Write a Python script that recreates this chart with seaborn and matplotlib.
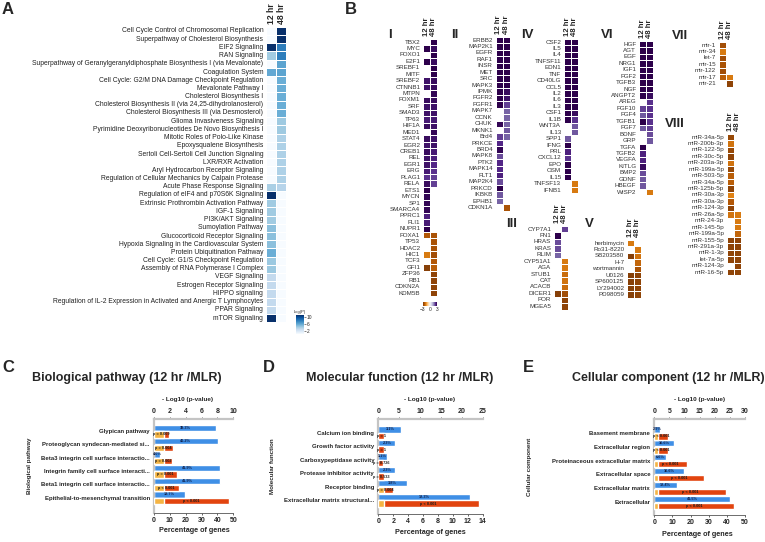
import numpy as np
import matplotlib
matplotlib.use("Agg")
import matplotlib.pyplot as plt
import matplotlib.colors as mcolors
import matplotlib.cm as cm
import seaborn as sns

nan = np.nan

# ---------------- Panel A data ----------------
a_pathways = [
    "Cell Cycle Control of Chromosomal Replication",
    "Superpathway of Cholesterol Biosynthesis",
    "EIF2 Signaling",
    "RAN Signaling",
    "Superpathway of Geranylgeranyldiphosphate Biosynthesis I (via Mevalonate)",
    "Coagulation System",
    "Cell Cycle: G2/M DNA Damage Checkpoint Regulation",
    "Mevalonate Pathway I",
    "Cholesterol Biosynthesis I",
    "Cholesterol Biosynthesis II (via 24,25-dihydrolanosterol)",
    "Cholesterol Biosynthesis III (via Desmosterol)",
    "Glioma Invasiveness Signaling",
    "Pyrimidine Deoxyribonucleotides De Novo Biosynthesis I",
    "Mitotic Roles of Polo-Like Kinase",
    "Epoxysqualene Biosynthesis",
    "Sertoli Cell-Sertoli Cell Junction Signaling",
    "LXR/RXR Activation",
    "Aryl Hydrocarbon Receptor Signaling",
    "Regulation of Cellular Mechanics by Calpain Protease",
    "Acute Phase Response Signaling",
    "Regulation of eIF4 and p70S6K Signaling",
    "Extrinsic Prothrombin Activation Pathway",
    "IGF-1 Signaling",
    "PI3K/AKT Signaling",
    "Sumoylation Pathway",
    "Glucocorticoid Receptor Signaling",
    "Hypoxia Signaling in the Cardiovascular System",
    "Protein Ubiquitination Pathway",
    "Cell Cycle: G1/S Checkpoint Regulation",
    "Assembly of RNA Polymerase I Complex",
    "VEGF Signaling",
    "Estrogen Receptor Signaling",
    "HIPPO signaling",
    "Regulation of IL-2 Expression in Activated and Anergic T Lymphocytes",
    "PPAR Signaling",
    "mTOR Signaling",
]
a_12hr = [0, 0, 11, 4.0, 0, 5.8, 0, 0, 0, 0, 0, 0, 0, 0, 0, 0, 0, 0, 0, 3.7,
          11, 4.0, 4.0, 4.0, 4.6, 4.6, 4.6, 5.5, 4.2, 4.2, 2.8, 2.8, 2.8, 2.8, 2.8, 11]
a_48hr = [11, 11, 7.7, 7.7, 6.0, 6.0, 5.5, 5.5, 5.5, 5.5, 5.5, 4.1, 4.1, 3.6, 3.6, 3.6,
          3.6, 3.6, 3.6, 3.3, 0, 0, 0, 0, 0, 0, 0, 0, 0, 0, 0, 0, 0, 0, 0, 0]
time_columns = ["12 hr", "48 hr"]

# ---------------- Panel B data (z-scores, NaN = not significant) ----------------
genes_I = ["TBX2", "MYC", "FOXO1", "E2F1", "SREBF1", "MITF", "SREBF2", "CTNNB1", "MTPN", "FOXM1",
           "SRF", "SMAD3", "TP63", "HIF1A", "MED1", "STAT4", "EGR2", "CREB1", "REL", "EGR1",
           "ERG", "PLAG1", "RELA", "ETS1", "MYCN", "SP1", "SMARCA4", "PPRC1", "FLI1", "NUPR1",
           "FOXA1", "TP53", "HDAC2", "HIC1", "TCF3", "GFI1", "ZFP36", "RB1", "CDKN2A", "KDM5B"]
I_12hr = [nan, 3, nan, 3, nan, nan, 2.7, 2.7, nan, 2.8, 2.7, 2.7, 2.6, 2.8, nan, 2.8, 2.7, 2.8, 2.7, 2.7,
          2.6, 2.3, 2.8, 3, 2.9, 2.9, 2.9, 2.5, 2.6, 3, -2.4, nan, nan, -1.9, nan, -2.9, nan, nan, nan, nan]
I_48hr = [3, 2.8, 3, 2.8, 3, 3, 2.8, 2.8, 2.9, 2.8, 2.7, 2.7, 2.6, 2.7, 2.9, 2.7, 2.7, 2.6, 2.5, 2.4,
          2.3, 2.2, 2.2, nan, nan, nan, nan, nan, nan, nan, -2.5, -2.5, -2.5, -2.6, -2.4, -2.3, -2.8, -2.8, -2.8, -2.8]

genes_II = ["ERBB2", "MAP2K1", "EGFR", "RAF1", "INSR", "MET", "SRC", "MAPK3", "IPMK", "FGFR2", "FGFR1",
            "MAPK7", "CCNK", "CHUK", "MKNK1", "Brd4", "PRKCE", "BRD4", "MAPK8", "PTK2", "MAPK14", "FLT1",
            "MAP2K4", "PRKCD", "IKBKB", "EPHB1", "CDKN1A"]
II_12hr = [3, 3, 3, 3, 3, 3, 3, 3, 3, 3, 3, nan, nan, 2.9, nan, 2.2, 2.4, 2.9, 2.1, 2.4, 2.4, 2.5,
           2.1, 3, 2.0, 1.9, nan]
II_48hr = [3, 3, 3, 3, 3, 3, 3, 3, 2.8, 2.7, 2.2, 1.9, 1.9, 1.9, 2.0, 1.9, nan, nan, nan, nan, nan, nan,
           nan, nan, nan, nan, -2.5]

genes_III = ["CYP7A1", "FN1", "HRAS", "KRAS", "RLIM", "CYP51A1", "AGA", "STUB1", "CAT", "ACACB",
             "DICER1", "POR", "MGEA5"]
III_12hr = [nan, 3, 2.1, 2.1, 1.9, nan, nan, nan, nan, nan, -2.9, nan, nan]
III_48hr = [2.2, nan, nan, nan, nan, -1.9, -1.9, -2.1, -2.0, -2.1, -2.6, -2.8, -2.8]

genes_IV = ["CSF2", "IL5", "IL4", "TNFSF11", "EDN1", "TNF", "CD40LG", "CCL5", "IL2", "IL6", "IL3", "CSF1",
            "IL1B", "WNT3A", "IL13", "SPP1", "IFNG", "PRL", "CXCL12", "EPO", "OSM", "IL15", "TNFSF13", "IFNB1"]
IV_12hr = [3, 3, 3, 3, 3, 3, 3, 3, 3, 3, 3, 3, 3, nan, nan, 2.0, 3, 2.5, 2.3, 3, 3, 3, nan, nan]
IV_48hr = [3, 3, 3, 3, 3, 3, 3, 3, 3, 3, 3, 2.8, 2.3, 2.0, 2.0, nan, nan, nan, nan, nan, nan, nan, -1.9, -1.9]

genes_V = ["herbimycin", "Ro31-8220", "SB203580", "H-7", "wortmannin", "U0126", "SP600125",
           "LY294002", "PD98059"]
V_12hr = [-1.9, nan, -2.9, nan, nan, -2.9, -2.9, -2.9, -2.9]
V_48hr = [nan, -1.9, -2.0, -2.2, -2.5, -2.8, -2.8, -2.8, -2.8]

genes_VI = ["HGF", "AGT", "EGF", "NRG1", "IGF1", "FGF2", "TGFB3", "NGF", "ANGPT2", "AREG", "FGF10",
            "FGF4", "TGFB1", "FGF7", "BDNF", "GRP", "TGFA", "TGFB2", "VEGFA", "KITLG", "BMP2", "GDNF",
            "HBEGF", "WISP2"]
VI_12hr = [3, 3, 3, 3, 3, 3, 3, 3, 3, nan, 2.2, 2.0, 3, 2.0, nan, nan, 3, 2.5, 2.5, 2.8, 2.1, 2.0, 2.0, nan]
VI_48hr = [3, 3, 3, 3, 3, 3, 3, 3, 2.8, 2.3, 2.3, 2.3, 2.3, 2.2, 2.1, 2.0, nan, nan, nan, nan, nan, nan, nan, -1.9]

genes_VII = ["mir-1", "mir-34", "let-7", "mir-15", "mir-122", "mir-17", "mir-21"]
VII_12hr = [-2.6, -1.9, -2.6, -2.5, -2.6, -2.3, nan]
VII_48hr = [nan, nan, nan, nan, nan, -1.9, -2.8]

genes_VIII = ["miR-34a-5p", "miR-200b-3p", "miR-122-5p", "miR-30c-5p", "miR-203a-3p", "miR-199a-5p",
              "miR-503-5p", "miR-34a-5p", "miR-125b-5p", "miR-30a-3p", "miR-30a-3p", "miR-124-3p",
              "miR-26a-5p", "miR-24-3p", "miR-145-5p", "miR-199a-5p", "miR-155-5p", "miR-291a-3p",
              "miR-1-3p", "let-7a-5p", "miR-124-3p", "miR-16-5p"]
VIII_12hr = [-2.7, -2.0, -2.7, -2.8, -2.0, -2.7, -2.3, -2.3, -2.8, -1.8, -2.4, -2.8, -2.0, nan, nan, nan,
             -2.8, -2.8, -2.8, -2.8, nan, -2.8]
VIII_48hr = [nan, nan, nan, nan, nan, nan, nan, nan, nan, nan, nan, nan, -1.9, -1.9, -1.9, -2.2,
             -2.8, -2.8, -2.8, -2.8, -2.8, -2.8]

# ---------------- Panels C, D, E data ----------------
c_terms = ["Glypican pathway", "Proteoglycan syndecan-mediated si...",
           "Beta3 integrin cell surface interactio...", "Integrin family cell surface interacti...",
           "Beta1 integrin cell surface interactio...", "Epithelial-to-mesenchymal transition"]
c_pct = [39.3, 40.2, 4.0, 41.9, 41.9, 19.7]
c_logp = [1.95, 2.35, 2.3, 2.85, 3.15, 9.4]
c_plabels = ["p = 0.009", "p = 0.004", "p = 0.002", "p = 0.001", "p < 0.001", "p < 0.001"]

d_terms = ["Calcium ion binding", "Growth factor activity", "Carboxypeptidase activity",
           "Protease inhibitor activity", "Receptor binding", "Extracellular matrix structural..."]
d_pct = [3.1, 2.3, 1.1, 2.3, 3.8, 12.3]
d_logp = [1.3, 1.3, 1.2, 1.3, 3.5, 24.0]
d_plabels = ["p = 1", "p = 1", "p = 0.726", "p = 0.533", "p = 0.004", "p < 0.001"]

e_terms = ["Basement membrane", "Extracellular region", "Proteinaceous extracellular matrix",
           "Extracellular space", "Extracellular matrix", "Extracellular"]
e_pct = [2.9, 10.6, 6.6, 16.6, 12.4, 41.5]
e_logp = [4.4, 4.6, 10.7, 16.5, 23.8, 26.4]
e_plabels = ["p < 0.001"] * 6

P_REF = 1.3  # -log10(0.05) reference segment

# ---------------- style ----------------
sns.set_theme(style="white")
plt.rcParams["font.family"] = ["Liberation Sans", "DejaVu Sans"]
plt.rcParams["axes.linewidth"] = 0.6

W, H = 765, 542
fig = plt.figure(figsize=(W / 100, H / 100), dpi=100)


def px_axes(x0, y0, x1, y1):
    return fig.add_axes([x0 / W, 1 - y1 / H, (x1 - x0) / W, (y1 - y0) / H])


def px_text(x, y, s, **kw):
    return fig.text(x / W, 1 - y / H, s, **kw)


# ---------------- Panel A ----------------
axA = px_axes(266, 26.9, 286, 322.1)
caxA = px_axes(296, 315, 304, 334)
dataA = np.column_stack([a_12hr, a_48hr])
sns.heatmap(dataA, ax=axA, cmap="Blues", vmin=0, vmax=11, linewidths=0.6, linecolor="white",
            cbar_ax=caxA, xticklabels=time_columns, yticklabels=a_pathways)
axA.xaxis.tick_top()
axA.set_xticklabels(time_columns, rotation=90, fontsize=6.2, fontweight="bold")
axA.set_yticklabels(a_pathways, rotation=0, fontsize=4.9, color="#222222")
axA.tick_params(length=0, pad=2)
caxA.set_yticks([2, 6, 10])
caxA.tick_params(labelsize=3.5, length=1.2, pad=1, width=0.4)
caxA.set_title("-log(P)", fontsize=3, pad=1.5)
px_text(2, 9, "A", fontsize=12, fontweight="bold", va="center")

# ---------------- Panel B ----------------
b_groups = [("I", genes_I, I_12hr, I_48hr), ("II", genes_II, II_12hr, II_48hr),
            ("III", genes_III, III_12hr, III_48hr), ("IV", genes_IV, IV_12hr, IV_48hr),
            ("V", genes_V, V_12hr, V_48hr), ("VI", genes_VI, VI_12hr, VI_48hr),
            ("VII", genes_VII, VII_12hr, VII_48hr), ("VIII", genes_VIII, VIII_12hr, VIII_48hr)]
# layout: heatmap left, heatmap top, title x, title y (pixels)
b_layout = {"I": (423, 38.8, 390, 35), "II": (495.5, 36.8, 455, 35), "III": (554, 225.8, 512, 224),
            "IV": (564, 38.8, 527, 35), "V": (627, 239.8, 589, 224), "VI": (639, 40.8, 607, 35),
            "VII": (719, 41.8, 680, 36), "VIII": (727, 133.8, 675, 124)}
CW, RH = 7.0, 6.44
for name, genes, v12, v48 in b_groups:
    x0, y0, tx, ty = b_layout[name]
    n = len(genes)
    ax = px_axes(x0, y0, x0 + 2 * CW, y0 + n * RH)
    data = np.column_stack([v12, v48])
    sns.heatmap(data, ax=ax, cmap="PuOr", vmin=-3, vmax=3, cbar=False, linewidths=0.6,
                linecolor="white", xticklabels=time_columns, yticklabels=genes)
    ax.xaxis.tick_top()
    ax.set_xticklabels(time_columns, rotation=90, fontsize=5.6, fontweight="bold")
    ax.set_yticklabels(genes, rotation=0, fontsize=4.5, color="#333333")
    ax.tick_params(length=0, pad=2)
    px_text(tx, ty, name, fontsize=9.5, fontweight="bold", ha="center", va="center")

caxB = px_axes(423, 302, 437, 305.5)
smB = cm.ScalarMappable(norm=mcolors.Normalize(-3, 3), cmap="PuOr")
cbB = fig.colorbar(smB, cax=caxB, orientation="horizontal", ticks=[-3, 0, 3])
cbB.outline.set_visible(False)
caxB.tick_params(labelsize=3.5, length=0, pad=1)
px_text(345, 9, "B", fontsize=12, fontweight="bold", va="center")

# ---------------- Panels C, D, E ----------------
BLUE = "#3f8fe6"
RED = "#e2440f"
YEL = "#f5b443"
GREY = "#c4c4c4"


def bar_panel(rect, terms, pct, logp, plabels, pct_max, pct_ticks, lp_max, lp_ticks, ylim):
    ax = px_axes(*rect)
    pos = np.arange(len(terms))
    ax.barh(pos - 0.24, pct, height=0.46, color=BLUE)
    ax.set_xlim(0, pct_max)
    ax.set_ylim(ylim)
    ax.set_xticks(pct_ticks)
    ax.set_yticks(pos)
    ax.set_yticklabels(terms, fontsize=4.3, fontweight="bold")
    ax.tick_params(axis="x", labelsize=5, length=1.5, pad=1.5, width=0.5)
    ax.tick_params(axis="y", length=2, pad=1, width=0.5)
    for lbl in ax.get_xticklabels():
        lbl.set_fontweight("bold")
    for p, v in zip(pos, pct):
        ax.text(v / 2, p - 0.24, f"{v:.1f}%", fontsize=2.8, fontweight="bold",
                color="#10204a", ha="center", va="center")
    ax2 = ax.twiny()
    logp = np.asarray(logp, dtype=float)
    ax2.barh(pos + 0.26, logp, height=0.48, color=RED)
    sig = logp > P_REF
    ax2.barh(pos[sig] + 0.26, np.full(sig.sum(), P_REF), height=0.48, color=YEL)
    ax2.set_xlim(0, lp_max)
    ax2.set_xticks(lp_ticks)
    ax2.tick_params(axis="x", labelsize=5, length=1.5, pad=1.5, width=0.5)
    for lbl in ax2.get_xticklabels():
        lbl.set_fontweight("bold")
    for p, v, s in zip(pos, logp, plabels):
        ax2.text(v / 2, p + 0.26, s, fontsize=2.8, fontweight="bold",
                 color="#1a1a1a", ha="center", va="center")
    for a in (ax, ax2):
        a.spines["right"].set_visible(False)
    ax.spines["top"].set_visible(False)
    ax2.spines["left"].set_visible(False)
    ax2.spines["bottom"].set_visible(False)
    ax2.spines["top"].set_color(GREY)
    ax2.spines["top"].set_linewidth(1.6)
    ax.spines["left"].set_color(GREY)
    ax.spines["left"].set_linewidth(1.6)
    ax.spines["bottom"].set_color("#555555")
    ax.spines["bottom"].set_linewidth(0.6)
    return ax, ax2


# C
bar_panel((154, 419, 233.3, 513), c_terms, c_pct, c_logp, c_plabels,
          50, [0, 10, 20, 30, 40, 50], 10, [0, 2, 4, 6, 8, 10], (6.15, -0.9))
px_text(2, 367, "C", fontsize=12, fontweight="bold", va="center")
px_text(127, 378, "Biological pathway (12 hr /MLR)", fontsize=9, fontweight="bold",
        ha="center", va="center")
px_text(188, 399, "- Log10 (p-value)", fontsize=4.6, fontweight="bold", ha="center", va="center")
px_text(194, 531, "Percentage of genes", fontsize=5.2, fontweight="bold", ha="center", va="center")
px_text(30, 466, "Biological pathway", fontsize=4.5, fontweight="bold", rotation=90,
        ha="center", va="center")

# D
bar_panel((378.3, 419, 482.7, 514), d_terms, d_pct, d_logp, d_plabels,
          14, [0, 2, 4, 6, 8, 10, 12, 14], 25, [0, 5, 10, 15, 20, 25], (6.04, -1.02))
px_text(263, 367, "D", fontsize=12, fontweight="bold", va="center")
px_text(400, 378, "Molecular function (12 hr /MLR)", fontsize=9, fontweight="bold",
        ha="center", va="center")
px_text(430, 399, "- Log10 (p-value)", fontsize=4.6, fontweight="bold", ha="center", va="center")
px_text(430, 533, "Percentage of genes", fontsize=5.2, fontweight="bold", ha="center", va="center")
px_text(272, 466, "Molecular function", fontsize=4.5, fontweight="bold", rotation=90,
        ha="center", va="center")

# E
bar_panel((654.3, 419, 745, 515), e_terms, e_pct, e_logp, e_plabels,
          50, [0, 10, 20, 30, 40, 50], 30, [0, 5, 10, 15, 20, 25, 30], (5.91, -0.98))
px_text(523, 367, "E", fontsize=12, fontweight="bold", va="center")
px_text(668, 378, "Cellular component (12 hr /MLR)", fontsize=9, fontweight="bold",
        ha="center", va="center")
px_text(700, 399, "- Log10 (p-value)", fontsize=4.6, fontweight="bold", ha="center", va="center")
px_text(697, 535, "Percentage of genes", fontsize=5.2, fontweight="bold", ha="center", va="center")
px_text(530, 467, "Cellular component", fontsize=4.5, fontweight="bold", rotation=90,
        ha="center", va="center")

fig.savefig("out.png", dpi=100)
